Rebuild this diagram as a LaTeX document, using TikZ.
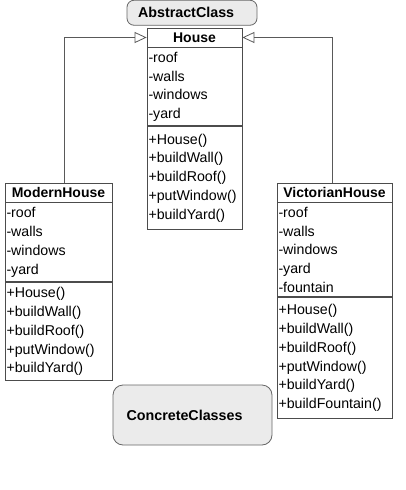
\documentclass[tikz,border=0pt]{standalone}
\usepackage{fontspec}
\setmainfont{Liberation Sans}
\usetikzlibrary{positioning, arrows.meta}
\tikzset{>={Triangle[open, length=12pt, width=11pt]},
         node distance=0pt,
         classhead/.style={draw=black!70, line width=0.8pt, minimum height=19pt, inner sep=0pt,
                           font=\fontsize{14}{18.8}\selectfont\bfseries},
         classpart/.style={draw=black!70, line width=0.8pt, align=left, inner xsep=1.5pt, inner ysep=0pt,
                           font=\fontsize{14.2}{18.8}\selectfont},
         groupnote/.style={draw=black!60, fill=black!8, line width=0.8pt, align=left,
                           font=\fontsize{14.3}{16}\selectfont\bfseries},
         inherit/.style={draw=black!65, line width=0.8pt, ->},
         }

\begin{document}
\begin{tikzpicture}[x=1pt, y=-1pt]
    \useasboundingbox (0,0) rectangle (405,490);

    \node[groupnote, rounded corners=7pt, text width=108pt, inner xsep=11pt, minimum height=25pt] (abstract) at (192,12.75) {AbstractClass};
    \node[groupnote, rounded corners=10pt, text width=132pt, inner xsep=13.5pt, minimum height=60pt] (concrete) at (192.5,415) {ConcreteClasses};

    \node[classhead, minimum width=95pt] (house) at (194.5,37.5) {House};
    \node[classpart, text width=92pt, minimum height=78pt, below=of house] (house-attr) {-roof\\-walls\\-windows\\-yard};
    \node[classpart, text width=92pt, minimum height=103pt, below=of house-attr] (house-ops) {+House()\\+buildWall()\\+buildRoof()\\+putWindow()\\+buildYard()};

    \node[classhead, minimum width=107pt] (modern) at (58.5,192.5) {ModernHouse};
    \node[classpart, text width=104pt, minimum height=79pt, below=of modern] (modern-attr) {-roof\\-walls\\-windows\\-yard};
    \node[classpart, text width=104pt, minimum height=98pt, below=of modern-attr] (modern-ops) {+House()\\+buildWall()\\+buildRoof()\\+putWindow()\\+buildYard()};

    \node[classhead, minimum width=115pt] (victorian) at (334.5,192.5) {VictorianHouse};
    \node[classpart, text width=112pt, minimum height=94pt, below=of victorian] (victorian-attr) {-roof\\-walls\\-windows\\-yard\\-fountain};
    \node[classpart, text width=112pt, minimum height=121pt, below=of victorian-attr] (victorian-ops) {+House()\\+buildWall()\\+buildRoof()\\+putWindow()\\+buildYard()\\+buildFountain()};

    \draw[inherit] ([xshift=6pt]modern.north) |- (house.west);
    \draw[inherit] ([xshift=-2.5pt]victorian.north) |- (house.east);
\end{tikzpicture}
\end{document}
